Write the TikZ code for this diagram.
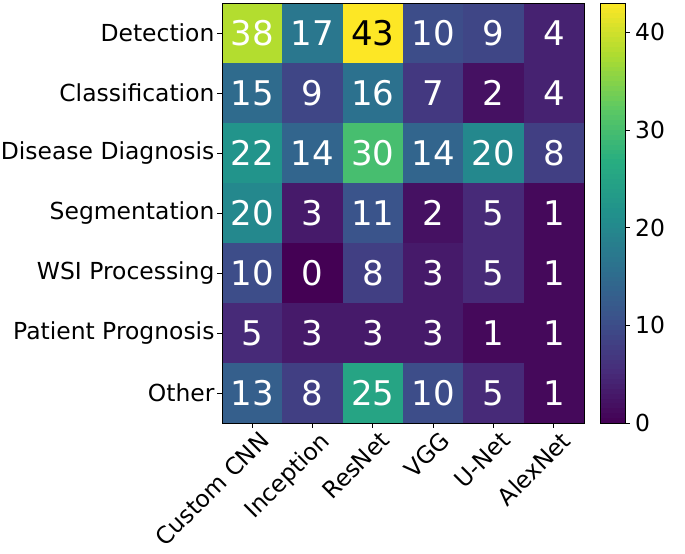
\documentclass[tikz,border=0pt]{standalone}
\usepackage{fontspec}
\setmainfont{DejaVu Sans}
\usetikzlibrary{positioning}
\definecolor{vir0}{HTML}{440154}
\definecolor{vir1}{HTML}{472D7B}
\definecolor{vir2}{HTML}{3B528B}
\definecolor{vir3}{HTML}{2C728E}
\definecolor{vir4}{HTML}{21918C}
\definecolor{vir5}{HTML}{28AE80}
\definecolor{vir6}{HTML}{5EC962}
\definecolor{vir7}{HTML}{ADDC30}
\definecolor{vir8}{HTML}{FDE725}
\newcommand\vircol[1]{%
  \pgfmathsetmacro\vt{min((#1)/43*8,8)}%
  \pgfmathtruncatemacro\vi{floor(\vt)}%
  \pgfmathtruncatemacro\vj{min(\vi+1,8)}%
  \pgfmathtruncatemacro\vp{round(100*(1-(\vt-\vi)))}%
  \colorlet{cellcol}{vir\vi!\vp!vir\vj}}
\tikzset{%
cell/.style={minimum width=60.33*0.03cm, minimum height=60*0.03cm, inner sep=0pt, outer sep=0pt},
value/.style={font=\fontsize{29}{31}\selectfont},
ylabel/.style={font=\fontsize{20}{22}\selectfont, anchor=east, inner sep=2pt},
xlabel/.style={font=\fontsize{20}{22}\selectfont, anchor=north east, rotate=45, inner sep=1pt},
cblabel/.style={font=\fontsize{20}{22}\selectfont, anchor=west},
tick/.style={line width=0.6pt}
}
\begin{document}
\begin{tikzpicture}[x=0.03cm,y=-0.03cm]
\useasboundingbox (0,0) rectangle (685,553);
% heatmap cells
\foreach \row [count=\r from 0] in {{38,17,43,10,9,4},{15,9,16,7,2,4},{22,14,30,14,20,8},
    {20,3,11,2,5,1},{10,0,8,3,5,1},{5,3,3,3,1,1},{13,8,25,10,5,1}}
{
  \foreach \v [count=\c from 0] in \row
  {
    \vircol{\v}
    \ifnum\v>40 \def\tc{black}\else\def\tc{white}\fi
    \node[cell,fill=cellcol,value,text=\tc] (c\r\c) at ({222+60.33*(\c+0.5)},{3+60*(\r+0.5)}) {\v};
  }
}
\draw[tick] (c00.north west) rectangle (c65.south east);
% row labels
\foreach \l [count=\r from 0] in {Detection,Classification,Disease Diagnosis,Segmentation,WSI Processing,Patient Prognosis,Other}
{
  \coordinate (rt\r) at ([xshift=-5*0.03cm]c\r0.west);
  \draw[tick] (c\r0.west) -- (rt\r);
  \node[ylabel] (row\r) at (rt\r) {\l};
}
% column labels
\foreach \l [count=\c from 0] in {Custom CNN,Inception,ResNet,VGG,U-Net,AlexNet}
{
  \coordinate (ct\c) at ([yshift=-5*0.03cm]c6\c.south);
  \draw[tick] (c6\c.south) -- (ct\c);
  \node[xlabel] (col\c) at ([xshift=6*0.03cm]ct\c) {\l};
}
% colour bar
\foreach \k in {0,...,85}
{
  \vircol{\k/2+0.25}
  \fill[cellcol] (600,{423-9.767*\k/2}) rectangle (625,{423-9.767*(\k+1)/2-0.3});
}
\coordinate (cbl) at (600,423);
\coordinate (cbu) at (625,3);
\draw[tick] (cbl) rectangle (cbu);
\foreach \t in {0,10,...,40}
{
  \coordinate (cb\t) at (625,{423-9.767*\t});
  \draw[tick] (cb\t) -- ++(5,0);
  \node[cblabel] (cbn\t) at ([xshift=6*0.03cm]cb\t) {\t};
}
\end{tikzpicture}
\end{document}
